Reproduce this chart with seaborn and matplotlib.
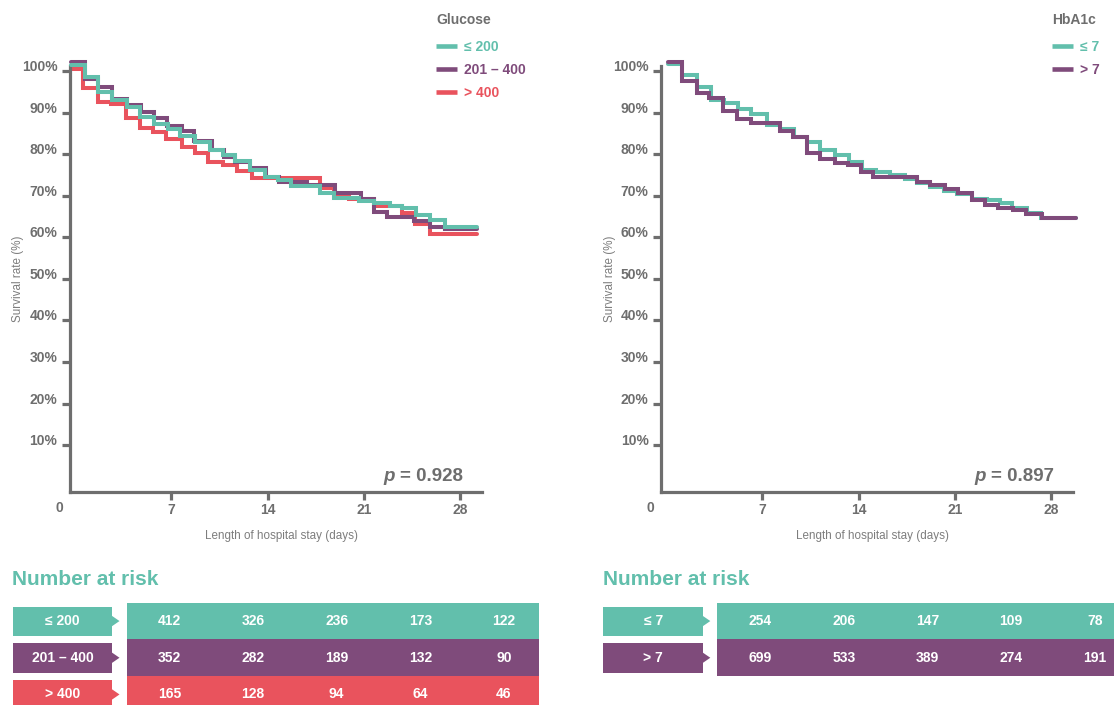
import numpy as np
import pandas as pd
import matplotlib
matplotlib.use("Agg")
import matplotlib.pyplot as plt
import seaborn as sns
from matplotlib.lines import Line2D
from matplotlib.patches import Rectangle, Polygon

# ---------------- data ----------------
# Glucose panel (days, survival %)
glu_le200_t = [-0.27, 0.75, 1.67, 2.69, 3.78, 4.75, 5.76, 6.76, 7.65, 8.76, 9.83, 10.76, 11.65, 12.69,
               13.83, 14.72, 15.72, 17.78, 18.79, 20.61, 21.75, 22.86, 23.76, 24.8, 25.82, 26.91, 29.2]
glu_le200_v = [101.4, 98.7, 95.1, 93.1, 91.3, 88.9, 87.3, 86.1, 84.4, 83.0, 81.0, 79.8, 78.4, 76.2,
               74.6, 73.8, 72.4, 70.8, 69.4, 68.8, 68.2, 67.6, 67.0, 65.3, 64.2, 62.6, 62.6]
glu_201_400_t = [-0.27, 0.75, 1.67, 2.69, 3.78, 4.8, 5.76, 6.73, 7.78, 8.67, 9.96, 10.8, 11.65, 12.74,
                 13.88, 14.8, 16.86, 18.87, 20.81, 21.70, 22.67, 24.61, 25.82, 26.85, 29.2]
glu_201_400_v = [102.1, 98.1, 96.1, 93.2, 91.8, 90.2, 88.8, 86.9, 85.7, 83.2, 81.0, 79.4, 78.2, 76.8,
                 74.6, 73.4, 72.6, 70.8, 69.2, 66.2, 65.0, 64.0, 62.6, 61.9, 61.9]
glu_gt400_t = [-0.27, 0.6, 1.72, 2.62, 3.73, 4.75, 5.67, 6.61, 7.78, 8.76, 9.71, 10.76, 11.77, 12.86,
               17.83, 18.79, 19.88, 21.70, 23.76, 24.73, 25.82, 29.2]
glu_gt400_v = [100.5, 95.9, 92.7, 92.0, 88.7, 86.4, 85.4, 83.8, 81.8, 80.4, 78.2, 77.4, 76.0, 74.4,
               71.8, 70.4, 69.2, 67.5, 65.8, 63.1, 60.7, 60.7]

# HbA1c panel
hba_le7_t = [0.18, 1.15, 2.3, 3.28, 4.25, 5.22, 6.18, 7.32, 8.29, 9.33, 10.22, 11.19, 12.28, 13.33, 14.23,
             15.27, 16.25, 17.36, 18.21, 19.17, 20.2, 21.17, 22.2, 23.29, 24.25, 25.16, 26.25, 27.22, 29.75]
hba_le7_v = [101.7, 99.1, 96.1, 93.1, 92.4, 91.0, 89.6, 87.0, 86.2, 84.2, 83.0, 81.0, 79.8, 78.2, 76.3,
             75.8, 75.1, 74.1, 73.2, 72.1, 71.2, 70.4, 69.2, 69.0, 68.2, 67.0, 65.8, 64.6, 64.6]
hba_gt7_t = [0.18, 1.15, 2.25, 3.13, 4.17, 5.19, 6.16, 8.29, 9.25, 10.22, 11.19, 12.28, 13.2, 14.2, 15.08,
             18.21, 19.22, 20.26, 21.23, 22.2, 23.21, 24.13, 25.22, 26.19, 27.28, 29.75]
hba_gt7_v = [102.1, 97.6, 94.7, 93.5, 90.5, 88.4, 87.5, 85.6, 84.1, 80.4, 78.9, 78.0, 77.4, 75.7, 74.5,
             73.4, 72.6, 71.6, 70.8, 69.0, 67.8, 67.0, 66.6, 65.6, 64.6, 64.6]

glu_labels = ["≤ 200", "201 – 400", "> 400"]
hba_labels = ["≤ 7", "> 7"]
glu_title = "Glucose"
hba_title = "HbA1c"
glu_p = "= 0.928"
hba_p = "= 0.897"

x_ticks = [7, 14, 21, 28]
y_ticks = [10, 20, 30, 40, 50, 60, 70, 80, 90, 100]

glu_risk = [[412, 326, 236, 173, 122],
            [352, 282, 189, 132, 90],
            [165, 128, 94, 64, 46]]
hba_risk = [[254, 206, 147, 109, 78],
            [699, 533, 389, 274, 191]]

# ---------------- style ----------------
TEAL = "#62bfac"
PURPLE = "#7f4b7b"
RED = "#e9535d"
GRAY = "#6e6e6e"
LGRAY = "#7d7d7d"

W, H = 1114, 705
sns.set_theme(style="white")
plt.rcParams["font.family"] = ["Liberation Sans", "DejaVu Sans"]

fig = plt.figure(figsize=(W / 100, H / 100), dpi=100)


def fx(x):
    return x / W


def fy(y):
    return 1 - y / H


def add_ax(x0, y0, x1, y1):
    return fig.add_axes([x0 / W, 1 - y1 / H, (x1 - x0) / W, (y1 - y0) / H])


def km_panel(x0, series, labels_order, title, pval, legend_x):
    ax = add_ax(x0, 58.0, x0 + 411.5, 491.5)
    for t, v, c, z in series:
        sns.lineplot(x=t, y=v, ax=ax, color=c, lw=2.9, drawstyle="steps-post",
                     estimator=None, zorder=z)
    for ln in ax.lines:
        ln.set_clip_on(False)
        ln.set_solid_joinstyle("miter")
    ax.set_xlim(-0.345, 29.53)
    ax.set_ylim(-1.18, 103.18)
    ax.set_xticks(x_ticks)
    ax.set_xticklabels([str(v) for v in x_ticks])
    ax.set_yticks(y_ticks)
    ax.set_yticklabels([f"{v}%" for v in y_ticks])
    ax.yaxis.get_major_ticks()[-1].tick1line.set_visible(False)
    ax.set_xlabel("")
    ax.set_ylabel("")
    for s in ["top", "right"]:
        ax.spines[s].set_visible(False)
    for s in ["left", "bottom"]:
        ax.spines[s].set_color(GRAY)
        ax.spines[s].set_linewidth(2.3)
    ax.spines["left"].set_bounds(-1.18, 101.3)
    ax.tick_params(axis="both", direction="out", length=5.5, width=2.3, color=GRAY,
                   labelsize=10, labelcolor=GRAY, left=True, bottom=True)
    ax.tick_params(axis="y", pad=3.5)
    ax.tick_params(axis="x", pad=2.5)
    for lbl in ax.get_xticklabels() + ax.get_yticklabels():
        lbl.set_fontweight("bold")
    for lbl in ax.get_yticklabels():
        lbl.set_verticalalignment("baseline")
    ax.set_facecolor("none")

    # legend (title drawn as a separate heading above the entries)
    fig.text(fx(legend_x), fy(20), title, ha="left", va="center", fontsize=10,
             fontweight="bold", color=GRAY)
    handles = [Line2D([], [], color=c, lw=3.3, solid_capstyle="butt") for c in labels_order[1]]
    leg = ax.legend(handles, labels_order[0], loc="upper left",
                    bbox_to_anchor=(fx(legend_x), fy(40)), bbox_transform=fig.transFigure,
                    frameon=False, borderpad=0, borderaxespad=0, handlelength=1.5,
                    handletextpad=0.5, labelspacing=0.644,
                    prop={"size": 10, "weight": "bold"})
    for txt, c in zip(leg.get_texts(), labels_order[1]):
        txt.set_color(c)

    # p-value
    right = x0 + 392.7
    pt = fig.text(fx(right), fy(476.5), pval, ha="right", va="center", fontsize=13.5,
                  fontweight="bold", color=GRAY)
    ax.annotate("p", xy=(0, 0), xycoords=pt, xytext=(-3.5, 0), textcoords="offset points",
                ha="right", va="bottom", fontsize=13.5, fontweight="bold", fontstyle="italic",
                color=GRAY)

    # "0" at origin, axis labels
    fig.text(fx(x0 - 10.7), fy(508), "0", ha="center", va="center", fontsize=10,
             fontweight="bold", color=GRAY)
    fig.text(fx(x0 + 211), fy(536.5), "Length of hospital stay (days)", ha="center",
             va="center", fontsize=8.4, color=LGRAY)
    fig.text(fx(x0 - 51.5), fy(279), "Survival rate (%)", ha="center", va="center",
             rotation=90, fontsize=8.4, color=LGRAY)
    return ax


km_panel(70, [(glu_gt400_t, glu_gt400_v, RED, 2), (glu_201_400_t, glu_201_400_v, PURPLE, 3),
              (glu_le200_t, glu_le200_v, TEAL, 4)],
         (glu_labels, [TEAL, PURPLE, RED]), glu_title, glu_p, 436)
km_panel(661, [(hba_le7_t, hba_le7_v, TEAL, 2), (hba_gt7_t, hba_gt7_v, PURPLE, 3)],
         (hba_labels, [TEAL, PURPLE]), hba_title, hba_p, 1052)


ROW_H = 36.7


def risk_table(x0, y0, width, labels, colors, counts):
    n = len(labels)
    tax = add_ax(x0, y0, x0 + width, y0 + n * ROW_H)
    tax.set_xlim(0, width)
    tax.set_ylim(n * ROW_H, 0)
    tax.axis("off")
    for r, (lab, c, row) in enumerate(zip(labels, colors, counts)):
        top = r * ROW_H
        mid = top + ROW_H / 2
        tax.add_patch(Rectangle((114, top), width - 114, ROW_H, color=c, lw=0))
        tax.add_patch(Rectangle((0, top + 3.9), 99.5, 29.3, color=c, lw=0))
        tax.add_patch(Polygon([(99, mid - 5.5), (107, mid), (99, mid + 5.5)], closed=True,
                              color=c, lw=0))
        tax.text(50, mid, lab, ha="center", va="center", color="white", fontsize=10,
                 fontweight="bold")
        for i, val in enumerate(row):
            tax.text(114 + 43 + 83.6 * i, mid, str(val), ha="center", va="center",
                     color="white", fontsize=10, fontweight="bold")
    fig.text(fx(x0), fy(y0 - 23), "Number at risk", ha="left", va="center", fontsize=15,
             fontweight="bold", color=TEAL)


risk_table(12.5, 602.7, 526.5, glu_labels, [TEAL, PURPLE, RED], glu_risk)
risk_table(603.3, 602.7, 530, hba_labels, [TEAL, PURPLE], hba_risk)

fig.savefig("out.png", dpi=100, facecolor="white")
